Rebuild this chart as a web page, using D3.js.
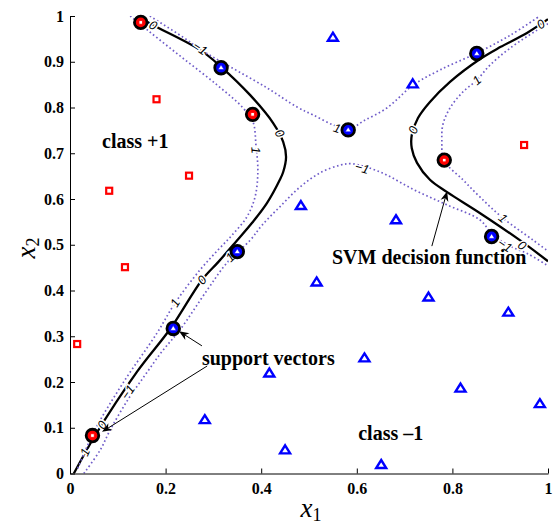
<!DOCTYPE html>
<html>
<head>
<meta charset="utf-8">
<script src="https://cdn.jsdelivr.net/npm/d3@7"></script>
<style>body{margin:0;background:#fff;}</style>
</head>
<body>
<div id="chart"></div>
<script>
// training points, class +1 (red squares) and class -1 (blue triangles)
var classPos = [[0.181, 0.818], [0.082, 0.618], [0.249, 0.651], [0.115, 0.451], [0.015, 0.283], [0.950, 0.718]];
var classPosSV = [[0.148, 0.986], [0.382, 0.785], [0.783, 0.685], [0.047, 0.083]];
var classNeg = [[0.550, 0.953], [0.717, 0.851], [0.483, 0.585], [0.682, 0.554], [0.516, 0.418], [0.750, 0.385],
	[0.917, 0.352], [0.616, 0.252], [0.417, 0.219], [0.817, 0.186], [0.983, 0.152], [0.282, 0.117],
	[0.450, 0.051], [0.651, 0.019]];
var classNegSV = [[0.316, 0.887], [0.350, 0.485], [0.216, 0.317], [0.582, 0.751], [0.851, 0.918], [0.882, 0.518]];

// decision function contours
var zeroLeft = [[0.140, 1.000], [0.174, 0.980], [0.272, 0.926], [0.316, 0.889], [0.377, 0.827], [0.425, 0.766],
	[0.446, 0.725], [0.452, 0.692], [0.446, 0.659], [0.439, 0.642], [0.412, 0.591], [0.381, 0.548],
	[0.345, 0.504], [0.310, 0.462], [0.276, 0.423], [0.211, 0.318], [0.140, 0.222], [0.052, 0.082], [0.008, 0.000]];
var zeroRight = [[1.000, 0.993], [0.956, 0.963], [0.900, 0.932], [0.858, 0.906], [0.795, 0.856], [0.753, 0.812],
	[0.728, 0.777], [0.715, 0.740], [0.715, 0.711], [0.726, 0.679], [0.753, 0.642], [0.789, 0.615],
	[0.858, 0.569], [0.941, 0.510], [1.000, 0.464]];
var plusLeft = [[0.126, 1.000], [0.167, 0.965], [0.236, 0.908], [0.308, 0.849], [0.362, 0.799], [0.383, 0.768],
	[0.389, 0.718], [0.393, 0.659], [0.387, 0.604], [0.370, 0.561], [0.339, 0.521], [0.310, 0.489],
	[0.272, 0.445], [0.220, 0.373], [0.182, 0.307], [0.111, 0.198], [0.052, 0.095], [0.015, 0.008]];
var plusRight = [[1.000, 0.983], [0.977, 0.969], [0.921, 0.930], [0.879, 0.893], [0.851, 0.860], [0.822, 0.834],
	[0.795, 0.799], [0.780, 0.762], [0.778, 0.725], [0.782, 0.685], [0.822, 0.642], [0.858, 0.604],
	[0.906, 0.558], [0.969, 0.510], [1.000, 0.486]];
var minusTop = [[0.167, 1.000], [0.236, 0.954], [0.282, 0.921], [0.335, 0.889], [0.412, 0.843], [0.475, 0.801],
	[0.508, 0.784], [0.550, 0.762], [0.582, 0.751], [0.613, 0.770], [0.663, 0.799], [0.718, 0.849],
	[0.774, 0.882], [0.851, 0.919], [0.921, 0.958], [0.983, 1.000]];
var minusBottom = [[0.029, 0.000], [0.063, 0.051], [0.084, 0.095], [0.121, 0.161], [0.157, 0.215], [0.192, 0.266],
	[0.230, 0.314], [0.287, 0.401], [0.328, 0.460], [0.377, 0.510], [0.402, 0.543], [0.439, 0.583],
	[0.481, 0.626], [0.523, 0.657], [0.565, 0.674], [0.590, 0.677], [0.649, 0.659], [0.720, 0.620],
	[0.789, 0.587], [0.858, 0.554], [0.883, 0.523], [0.921, 0.497], [0.958, 0.480], [1.000, 0.454]];

var contours = [
	{ level: 0, pts: zeroLeft }, { level: 0, pts: zeroRight },
	{ level: 1, pts: plusLeft }, { level: 1, pts: plusRight },
	{ level: -1, pts: minusTop }, { level: -1, pts: minusBottom }
];

// contour labels (text, contour index, position)
var contourLabels = [
	["0", 0, 0.174, 0.980], ["\u22121", 4, 0.272, 0.930], ["0", 0, 0.439, 0.744], ["1", 2, 0.389, 0.707],
	["1", 4, 0.559, 0.755], ["0", 1, 0.718, 0.751], ["1", 3, 0.851, 0.860], ["0", 1, 0.985, 0.982],
	["\u22121", 5, 0.611, 0.668], ["1", 3, 0.906, 0.558], ["\u22121", 5, 0.910, 0.499], ["0", 1, 0.946, 0.499],
	["1", 5, 0.335, 0.473], ["0", 0, 0.276, 0.423], ["1", 2, 0.220, 0.373], ["\u22121", 5, 0.121, 0.178],
	["0", 0, 0.067, 0.106], ["1", 2, 0.031, 0.047]
];

var xTicks = [0, 0.2, 0.4, 0.6, 0.8, 1];
var xTickLabels = ["0", "0.2", "0.4", "0.6", "0.8", "1"];
var yTicks = [0, 0.1, 0.2, 0.3, 0.4, 0.5, 0.6, 0.7, 0.8, 0.9, 1];
var yTickLabels = ["0", "0.1", "0.2", "0.3", "0.4", "0.5", "0.6", "0.7", "0.8", "0.9", "1"];

// annotation text and arrows (arrow: from, to)
var notes = [["class +1", 0.067, 0.711], ["class \u20131", 0.603, 0.073],
	["support vectors", 0.276, 0.237], ["SVM decision function", 0.548, 0.458]];
var arrows = [[[0.276, 0.279], [0.228, 0.311]], [[0.287, 0.235], [0.067, 0.091]], [[0.757, 0.497], [0.789, 0.617]]];

var width = 556, height = 529;
var x = d3.scaleLinear().domain([0, 1]).range([70, 548]);
var y = d3.scaleLinear().domain([0, 1]).range([473.5, 16]);

var svg = d3.select("#chart").append("svg")
	.attr("width", width)
	.attr("height", height)
	.style("background", "#fff");

svg.append("defs").append("clipPath").attr("id", "plotClip")
	.append("rect").attr("x", 70).attr("y", 16).attr("width", 478).attr("height", 457.5);

var line = d3.line()
	.x(function(d) { return x(d[0]); })
	.y(function(d) { return y(d[1]); })
	.curve(d3.curveCatmullRom.alpha(0.5));

var contourG = svg.append("g").attr("clip-path", "url(#plotClip)");
contours.forEach(function(c) {
	contourG.append("path")
		.attr("d", line(c.pts))
		.attr("fill", "none")
		.attr("stroke", c.level === 0 ? "#000" : "#6f5cc9")
		.attr("stroke-width", c.level === 0 ? 2.3 : 1.7)
		.attr("stroke-dasharray", c.level === 0 ? null : "1.6,2.6");
});

// rotate each label along its contour
function labelAngle(pts, lx, ly) {
	var best = 0, bd = 1e9;
	for (var i = 0; i < pts.length - 1; i++) {
		var mx = (x(pts[i][0]) + x(pts[i + 1][0])) / 2, my = (y(pts[i][1]) + y(pts[i + 1][1])) / 2;
		var d = (mx - lx) * (mx - lx) + (my - ly) * (my - ly);
		if (d < bd) { bd = d; best = i; }
	}
	var a = Math.atan2(y(pts[best + 1][1]) - y(pts[best][1]), x(pts[best + 1][0]) - x(pts[best][0])) * 180 / Math.PI;
	if (a > 90) a -= 180;
	if (a < -90) a += 180;
	return a;
}

contourLabels.forEach(function(l) {
	var px = x(l[2]), py = y(l[3]);
	var a = labelAngle(contours[l[1]].pts, px, py);
	contourG.append("text")
		.attr("transform", "translate(" + px + "," + py + ") rotate(" + a + ")")
		.attr("text-anchor", "middle")
		.attr("dy", "0.35em")
		.style("font", "italic 12.5px 'Liberation Sans', sans-serif")
		.style("paint-order", "stroke")
		.attr("stroke", "#fff")
		.attr("stroke-width", 3)
		.attr("fill", "#000")
		.text(l[0]);
});

// axes
var yAxis = d3.axisLeft(y).tickValues(yTicks)
	.tickFormat(function(d, i) { return yTickLabels[i]; })
	.tickSizeInner(-5).tickSizeOuter(0).tickPadding(6);
var xAxis = d3.axisBottom(x).tickValues(xTicks)
	.tickFormat(function(d, i) { return xTickLabels[i]; })
	.tickSizeInner(-5).tickSizeOuter(0).tickPadding(9);

var gy = svg.append("g").attr("transform", "translate(70,0)").call(yAxis);
var gx = svg.append("g").attr("transform", "translate(0,473.5)").call(xAxis);
[gx, gy].forEach(function(g) {
	g.selectAll("path, line").attr("stroke", "#000").attr("stroke-width", 1);
	g.selectAll("text").attr("fill", "#000")
		.style("font", "bold 16px 'Liberation Serif', serif");
});

// points
var ptG = svg.append("g");
function square(g, p, s, col, fill, sw) {
	g.append("rect")
		.attr("x", x(p[0]) - s / 2).attr("y", y(p[1]) - s / 2)
		.attr("width", s).attr("height", s)
		.attr("fill", fill).attr("stroke", col).attr("stroke-width", sw);
}
function triangle(g, p, w, col, fill, sw) {
	var cx = x(p[0]), cy = y(p[1]), h = w * 0.8;
	g.append("path")
		.attr("d", "M" + cx + "," + (cy - h * 0.6) + "L" + (cx + w / 2) + "," + (cy + h * 0.4) + "L" + (cx - w / 2) + "," + (cy + h * 0.4) + "Z")
		.attr("fill", fill).attr("stroke", col).attr("stroke-width", sw).attr("stroke-linejoin", "miter");
}
function ring(g, p, col) {
	g.append("circle").attr("cx", x(p[0])).attr("cy", y(p[1])).attr("r", 6.3)
		.attr("fill", col).attr("stroke", "#000").attr("stroke-width", 2.8);
}
classPos.forEach(function(p) { square(ptG, p, 6, "#ff0000", "#fff", 2.2); });
classNeg.forEach(function(p) { triangle(ptG, p, 10, "#0000ff", "#fff", 2.4); });
classPosSV.forEach(function(p) { ring(ptG, p, "#ff0000"); square(ptG, p, 3.5, "#ff0000", "#fff", 0.8); });
classNegSV.forEach(function(p) { ring(ptG, p, "#0000ff"); triangle(ptG, p, 6, "#0000ff", "#fff", 0.6); });

// annotations
notes.forEach(function(n) {
	svg.append("text")
		.attr("x", x(n[1])).attr("y", y(n[2]))
		.style("font", "bold 20px 'Liberation Serif', serif")
		.attr("fill", "#000")
		.text(n[0]);
});

arrows.forEach(function(a) {
	var x0 = x(a[0][0]), y0 = y(a[0][1]), x1 = x(a[1][0]), y1 = y(a[1][1]);
	var ang = Math.atan2(y1 - y0, x1 - x0), L = 10, W = 4, N = 7;
	var ux = Math.cos(ang), uy = Math.sin(ang);
	svg.append("line")
		.attr("x1", x0).attr("y1", y0)
		.attr("x2", x1 - ux * N).attr("y2", y1 - uy * N)
		.attr("stroke", "#000").attr("stroke-width", 1);
	var bx = x1 - ux * L, by = y1 - uy * L;
	svg.append("path")
		.attr("d", "M" + x1 + "," + y1 +
			"L" + (bx - uy * W) + "," + (by + ux * W) +
			"L" + (x1 - ux * N) + "," + (y1 - uy * N) +
			"L" + (bx + uy * W) + "," + (by - ux * W) + "Z")
		.attr("fill", "#000");
});

// axis labels
var xl = svg.append("text").attr("x", 311).attr("y", 517).attr("text-anchor", "middle")
	.style("font", "italic 27px 'Liberation Serif', serif").attr("fill", "#000");
xl.append("tspan").text("x");
xl.append("tspan").attr("dy", 4).style("font", "18px 'Liberation Serif', serif").text("1");

var yl = svg.append("text").attr("transform", "translate(35,248) rotate(-90)").attr("text-anchor", "middle")
	.style("font", "italic 27px 'Liberation Serif', serif").attr("fill", "#000");
yl.append("tspan").text("x");
yl.append("tspan").attr("dy", 4).style("font", "18px 'Liberation Serif', serif").text("2");
</script>
</body>
</html>
